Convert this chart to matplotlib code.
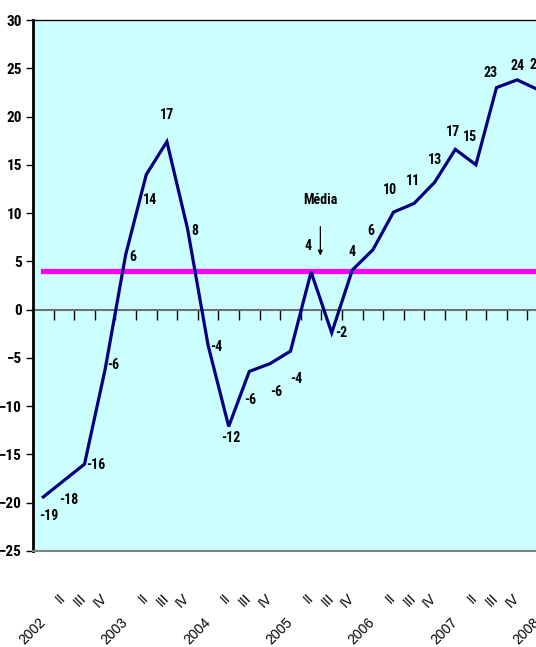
import numpy as np
import matplotlib
matplotlib.use("Agg")
import matplotlib.pyplot as plt
import matplotlib.transforms as mtransforms

# quarterly values
categories = ["2002", "II", "III", "IV",
              "2003", "II", "III", "IV",
              "2004", "II", "III", "IV",
              "2005", "II", "III", "IV",
              "2006", "II", "III", "IV",
              "2007", "II", "III", "IV",
              "2008"]
values = [-19.4, -17.7, -16.0, -6.2, 5.7, 14.0, 17.4, 8.4, -3.7, -12.1, -6.4, -5.6,
          -4.3, 3.9, -2.4, 4.1, 6.2, 10.1, 11.0, 13.2, 16.6, 15.0, 23.0, 23.8, 22.8]
media = 4.0

# label offsets in pixels (dx, dy), just for placement
lbl_off = [(5, -19), (5, -19), (11, -1), (8, 4), (7, -2), (4, -26), (0, 27), (7, -2),
           (8, -2), (2, -12), (1, -29), (6, -28), (6, -28), (-3, 26), (9, 0), (0, 18),
           (-2, 19), (-4, 22), (-1, 22), (0, 22), (-2, 17), (-6, 28), (-6, 15), (0, 14),
           (-1, 25)]

narrow = ["Roboto Condensed", "DejaVu Sans"]

fig = plt.figure(figsize=(5.36, 6.47), dpi=100)
ax = fig.add_axes([33 / 536, 96 / 647, 515 / 536, 531 / 647])
ax.set_facecolor("#CCFFFF")

x = np.arange(len(values))
ax.plot(x, values, color="#000080", lw=2.3, zorder=4, solid_joinstyle="miter")
ax.plot([x[0], x[-1]], [media, media], color="#FF00FF", lw=3.8, zorder=3)

for i, v in enumerate(values):
    dx, dy = lbl_off[i]
    ax.annotate(f"{int(round(v))}", (x[i], v), xytext=(dx, dy),
                textcoords="offset pixels", ha="center", va="center",
                fontsize=10, fontweight="bold", family=narrow, zorder=5)

ax.annotate("", xy=(13.45, 5.6), xytext=(13.45, 8.6),
            arrowprops=dict(arrowstyle="-|>", color="black", lw=0.9,
                            mutation_scale=7, shrinkA=0, shrinkB=0))
ax.text(13.43, 11.4, "Média", ha="center", va="center", fontsize=10,
        fontweight="bold", family=narrow)

ax.set_xlim(-0.5, len(values) - 0.5)
ax.set_ylim(-25, 30)
ax.set_yticks(np.arange(-25, 31, 5))
ax.tick_params(axis="y", direction="out", length=5, width=1, color="black", pad=3)
for t in ax.get_yticklabels():
    t.set_fontweight("bold")
    t.set_fontsize(11)
    t.set_family(narrow)

ax.set_xticks([])
ax.spines["right"].set_visible(False)
ax.spines["left"].set_linewidth(2)
ax.spines["top"].set_linewidth(1)
ax.spines["bottom"].set_color("#808080")
ax.spines["bottom"].set_linewidth(1.5)

# zero line with the category tick marks
sec = ax.secondary_xaxis(0, transform=ax.transData)
sec.spines["bottom"].set_color("#707070")
sec.spines["bottom"].set_linewidth(1.5)
sec.set_xticks(np.arange(0.5, len(values) - 0.5, 1))
sec.tick_params(direction="out", length=7, width=1, color="black", labelbottom=False)

# rotated category labels under the plot
trans = mtransforms.blended_transform_factory(ax.transData, ax.transAxes)
for i, c in enumerate(categories):
    down = -69 if c.isdigit() else -45
    ax.annotate(c, (x[i], 0), xycoords=trans, xytext=(0, down),
                textcoords="offset pixels", rotation=45, rotation_mode="anchor",
                ha="right", va="center", fontsize=10, family="Liberation Sans",
                annotation_clip=False)

fig.savefig("out.png", dpi=100)
